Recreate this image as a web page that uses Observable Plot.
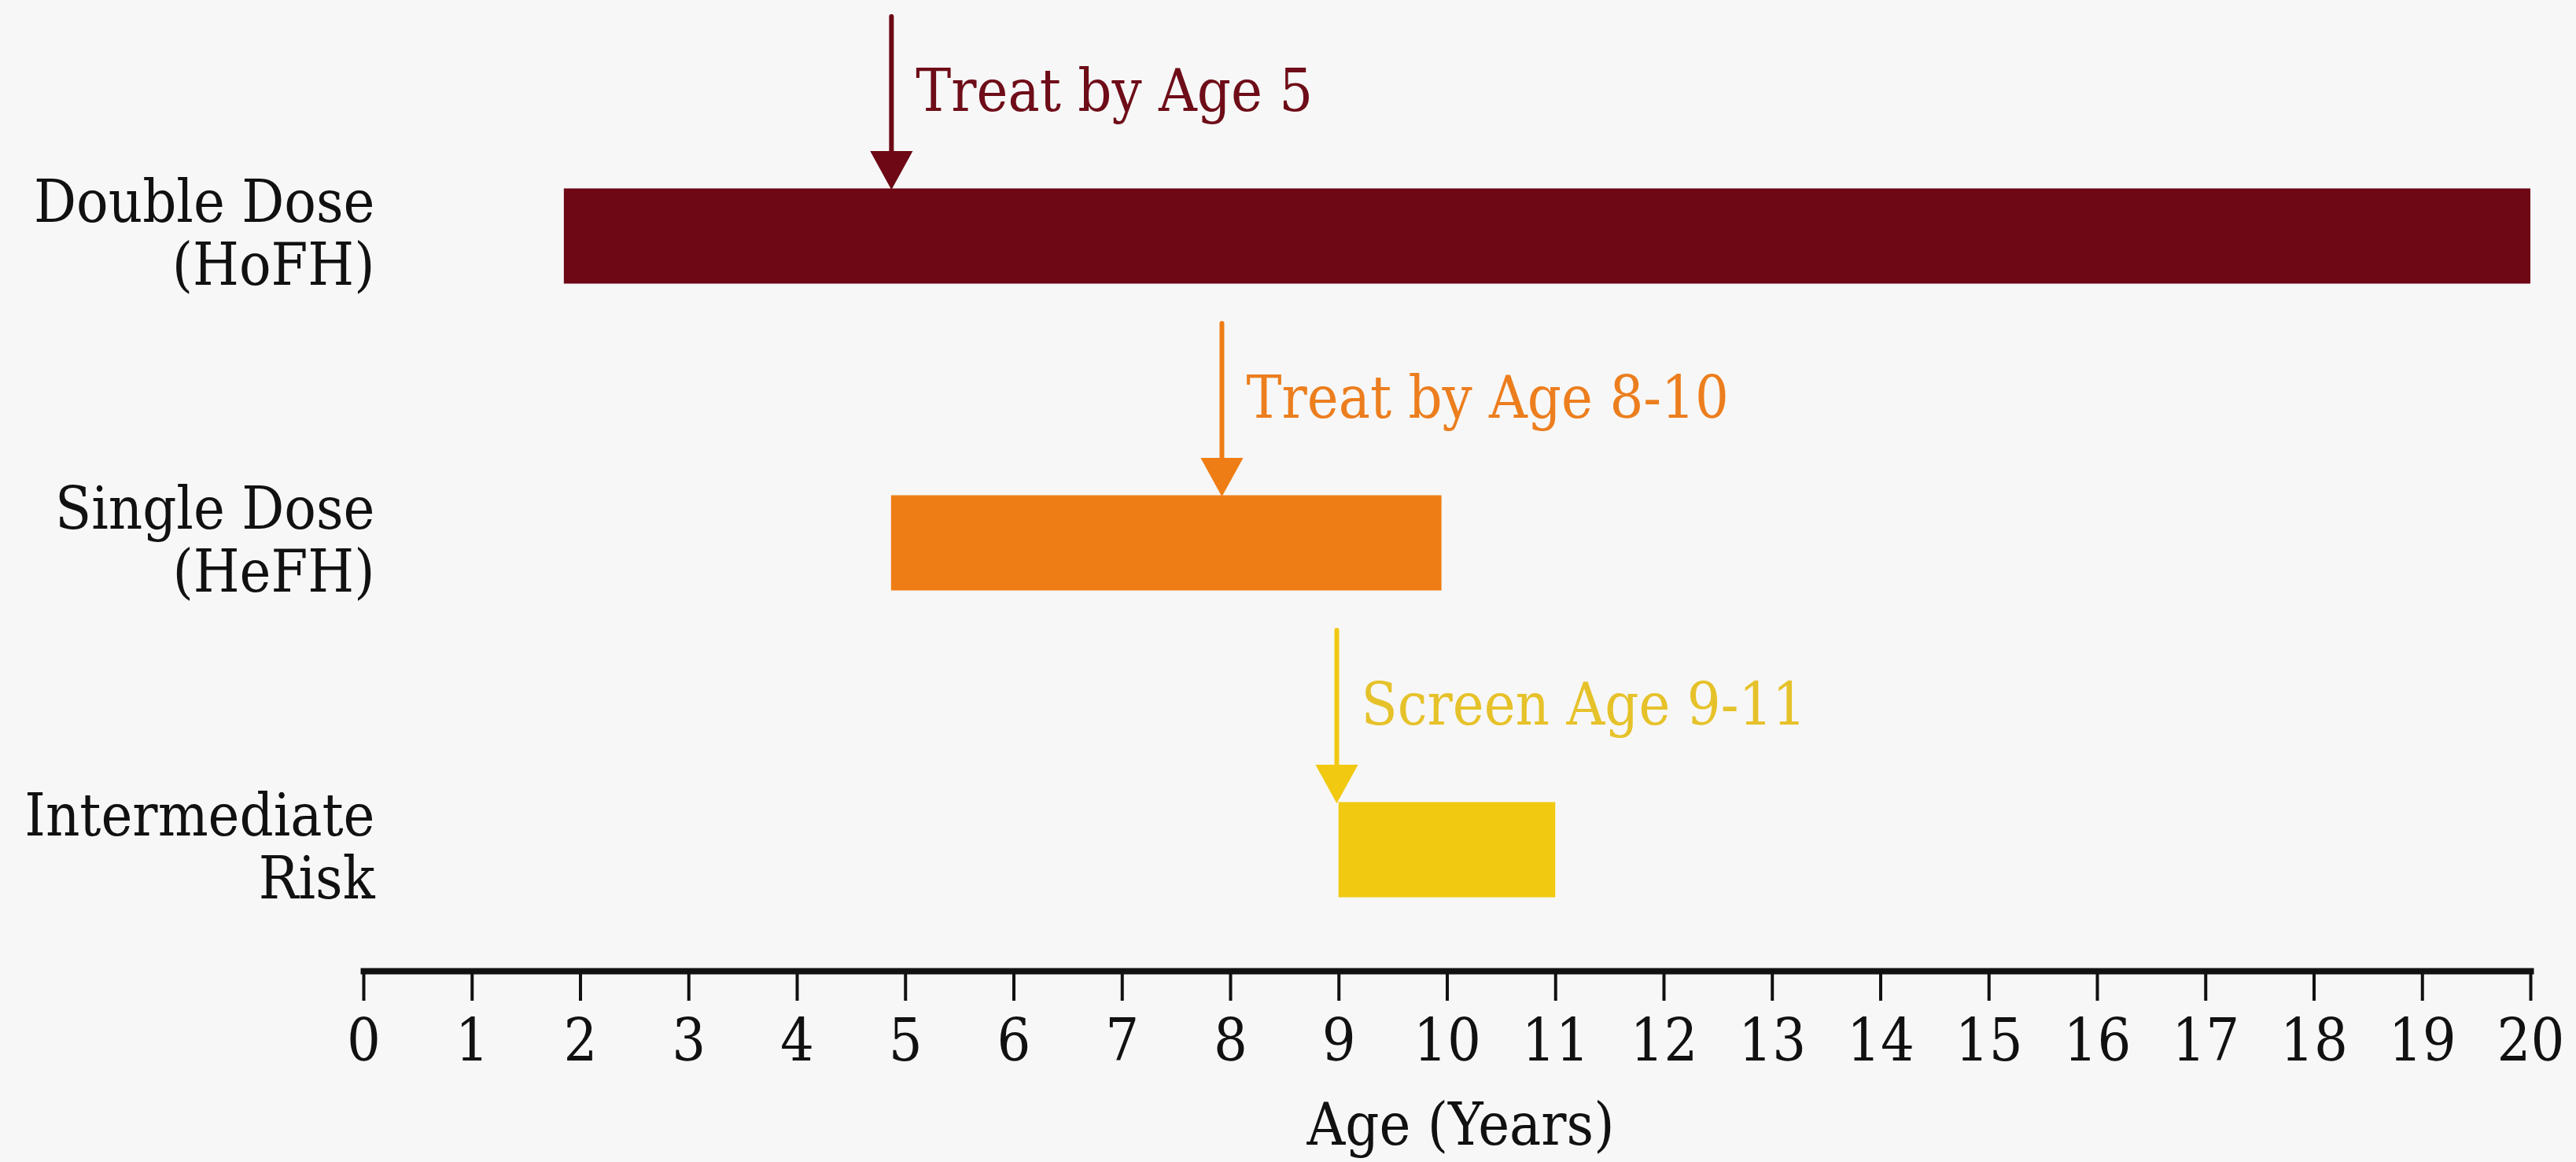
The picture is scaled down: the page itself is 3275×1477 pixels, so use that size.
<!DOCTYPE html>
<html>
<head>
<meta charset="utf-8">
<script src="https://cdn.jsdelivr.net/npm/d3@7"></script>
<script src="https://cdn.jsdelivr.net/npm/@observablehq/plot@0.6"></script>
<style>
  html, body { margin: 0; padding: 0; background: #f7f7f7; }
  #chart svg { display: block; }
</style>
</head>
<body>
<div id="chart"></div>
<script>
// ---- data ----
const categories = ["Double Dose\n(HoFH)", "Single Dose\n(HeFH)", "Intermediate\nRisk"];
const startAges = [1.85, 4.87, 9];
const endAges = [20, 9.95, 11];
const markerAges = [4.87, 7.92, 8.98];
const annotations = ["Treat by Age 5", "Treat by Age 8-10", "Screen Age 9-11"];
const xTicks = [0, 1, 2, 3, 4, 5, 6, 7, 8, 9, 10, 11, 12, 13, 14, 15, 16, 17, 18, 19, 20];
const xLabel = "Age (Years)";

// ---- styles ----
const barColors = ["#6d0814", "#ef7d15", "#f1c911"];
const textColors = ["#6e0d18", "#ec7e1e", "#e6c22a"];
const font = "'DejaVu Serif Condensed', 'DejaVu Serif', 'Liberation Serif', serif";

const rows = categories.map((c, i) => ({
  category: c, start: startAges[i], end: endAges[i],
  marker: markerAges[i], note: annotations[i], i
}));

const W = 3275, H = 1477;
const fs = 75;

// arrow shape for the vector mark: a shaft plus a filled triangular head
const headH = 40, headW = 22;
const arrowShape = {
  draw(context, l) {
    context.moveTo(0, 0);
    context.lineTo(0, -(l - headH));
    context.moveTo(-headW, -(l - headH));
    context.lineTo(0, -l);
    context.lineTo(headW, -(l - headH));
    context.closePath();
  }
};

const chart = Plot.plot({
  width: W,
  height: H,
  marginLeft: 462,
  marginRight: 58,
  marginTop: 0,
  marginBottom: 243,
  style: { background: "transparent", fontFamily: font, fontSize: fs + "px", color: "#111" },
  x: { domain: [0, 20], axis: null },
  y: { type: "band", domain: categories, range: [105, 1275], padding: 0, axis: null },
  color: { domain: categories, range: barColors },
  marks: [
    // bars
    Plot.barX(rows, {
      x1: "start", x2: "end", y: "category", fill: "category",
      insetTop: 134.5, insetBottom: 134.5
    }),
    // arrows
    Plot.vector(rows, {
      x: "marker", y: "category", stroke: "category", fill: "category",
      strokeWidth: 6, strokeLinejoin: "miter",
      shape: arrowShape, length: 214, rotate: 180, anchor: "start", dy: -279.5
    }),
    // annotations
    Plot.text(rows, {
      x: "marker", y: "category", text: "note",
      fill: d => textColors[d.i],
      textAnchor: "start", lineAnchor: "middle",
      dx: 31, dy: -184, fontSize: fs, fontFamily: font
    }),
    // category labels
    Plot.text(rows, {
      y: "category", text: "category",
      frameAnchor: "left", textAnchor: "end", lineAnchor: "middle",
      dx: 14, dy: -4, lineHeight: 1.06, fontSize: fs, fontFamily: font, fill: "#111"
    }),
    // x axis line
    Plot.frame({ anchor: "bottom", stroke: "#111", strokeWidth: 8 }),
    // x axis ticks + labels
    Plot.axisX({
      ticks: xTicks, tickFormat: d => String(d), tickSize: 38, tickPadding: 22,
      strokeWidth: 4, stroke: "#111", fill: "#111",
      fontSize: fs, fontFamily: font, label: null
    }),
    // axis title
    Plot.text([xLabel], {
      text: d => d, frameAnchor: "bottom", lineAnchor: "middle",
      dx: 17, dy: 196, fontSize: fs, fontFamily: font, fill: "#111"
    })
  ]
});

document.getElementById("chart").appendChild(chart);
</script>
</body>
</html>
